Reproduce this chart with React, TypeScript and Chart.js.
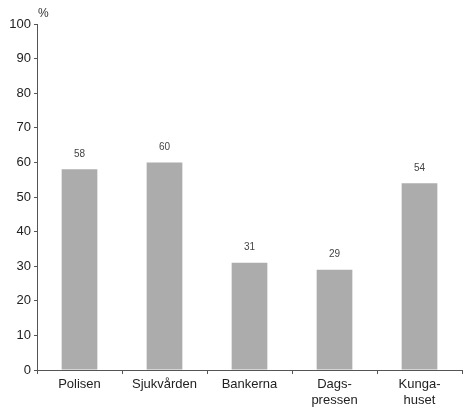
import React, { useEffect, useRef } from "react";
import { Chart, registerables } from "chart.js";

Chart.register(...registerables);

const categories: (string | string[])[] = ["Polisen", "Sjukvården", "Bankerna", ["Dags-", "pressen"], ["Kunga-", "huset"]];
const values: number[] = [58, 60, 31, 29, 54];
const yTicks: number[] = [0, 10, 20, 30, 40, 50, 60, 70, 80, 90, 100];
const unitLabel = "%";

const FONT = "'Liberation Sans', Arial, Helvetica, sans-serif";

export default function App() {
  const ref = useRef<HTMLCanvasElement | null>(null);

  useEffect(() => {
    document.body.style.margin = "0";
    const canvas = ref.current;
    if (!canvas) return;

    const labelPlugin = {
      id: "barLabels",
      afterDatasetsDraw(chart: any) {
        const ctx = chart.ctx;
        const meta = chart.getDatasetMeta(0);
        ctx.save();
        ctx.font = `10px ${FONT}`;
        ctx.fillStyle = "#444";
        ctx.textAlign = "center";
        ctx.textBaseline = "middle";
        meta.data.forEach((bar: any, i: number) => {
          ctx.fillText(String(values[i]), bar.x, bar.y - 15);
        });
        // unit label above y axis
        const yScale = chart.scales.y;
        ctx.font = `12px ${FONT}`;
        ctx.fillStyle = "#333";
        ctx.textAlign = "left";
        ctx.fillText(unitLabel, yScale.right + 1, 14);
        ctx.restore();
      },
    };

    const chart = new Chart(canvas, {
      type: "bar",
      data: {
        labels: categories as any,
        datasets: [
          {
            data: values,
            backgroundColor: "#acacac",
            borderWidth: 0,
            barPercentage: 0.42,
            categoryPercentage: 1,
          },
        ],
      },
      options: {
        responsive: false,
        animation: false,
        devicePixelRatio: 1,
        layout: { padding: { top: 24, right: 6, left: 0, bottom: 0 } },
        plugins: {
          legend: { display: false },
          tooltip: { enabled: false },
        },
        scales: {
          x: {
            afterFit(scale: any) {
              scale.height = 38;
            },
            grid: {
              display: true,
              drawOnChartArea: false,
              drawTicks: true,
              tickLength: 4,
              color: "#555",
              offset: true,
            },
            border: { display: true, color: "#555", width: 1 },
            ticks: {
              color: "#222",
              font: { family: FONT, size: 13 },
              padding: 3,
              maxRotation: 0,
              autoSkip: false,
            },
          },
          y: {
            min: 0,
            max: 100,
            afterFit(scale: any) {
              scale.width = 37;
            },
            afterBuildTicks(scale: any) {
              scale.ticks = yTicks.map((v) => ({ value: v }));
            },
            grid: {
              display: true,
              drawOnChartArea: false,
              drawTicks: true,
              tickLength: 3,
              color: "#555",
            },
            border: { display: true, color: "#555", width: 1 },
            ticks: {
              color: "#222",
              font: { family: FONT, size: 13 },
              padding: 3,
            },
          },
        },
      },
      plugins: [labelPlugin],
    });

    return () => chart.destroy();
  }, []);

  return (
    <div style={{ width: 468, height: 408, background: "#fff" }}>
      <canvas ref={ref} width={468} height={408} style={{ width: 468, height: 408, display: "block" }} />
    </div>
  );
}
